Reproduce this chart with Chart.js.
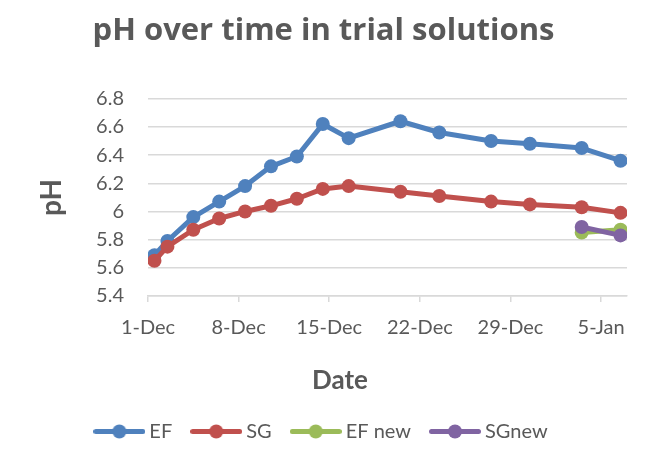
<!DOCTYPE html>
<html>
<head>
<meta charset="utf-8">
<script src="https://cdn.jsdelivr.net/npm/chart.js@4/dist/chart.umd.min.js"></script>
<style>
html,body{margin:0;padding:0;background:#ffffff;}
#wrap{width:647px;height:468px;position:relative;}
</style>
</head>
<body>
<div id="wrap"><canvas id="c" width="647" height="468"></canvas></div>
<script>
// ---- data ----
const startDate = '2014-12-01';
const endDate = '2015-01-07';
const efDates = ['2014-12-01','2014-12-02','2014-12-04','2014-12-06','2014-12-08','2014-12-10','2014-12-12','2014-12-14','2014-12-16','2014-12-20','2014-12-23','2014-12-27','2014-12-30','2015-01-03','2015-01-06'];
const efValues = [5.69, 5.79, 5.96, 6.07, 6.18, 6.32, 6.39, 6.62, 6.52, 6.64, 6.56, 6.50, 6.48, 6.45, 6.36];
const sgValues = [5.65, 5.75, 5.87, 5.95, 6.00, 6.04, 6.09, 6.16, 6.18, 6.14, 6.11, 6.07, 6.05, 6.03, 5.99];
const newDates = ['2015-01-03','2015-01-06'];
const efNewValues = [5.85, 5.87];
const sgNewValues = [5.89, 5.83];
const xTickDates = ['2014-12-01','2014-12-08','2014-12-15','2014-12-22','2014-12-29','2015-01-05'];
const xTickLabels = ['1-Dec','8-Dec','15-Dec','22-Dec','29-Dec','5-Jan'];
const yTickValues = [5.4, 5.6, 5.8, 6.0, 6.2, 6.4, 6.6, 6.8];
const seriesNames = ['EF', 'SG', 'EF new', 'SGnew'];
const seriesColors = ['#4F81BD', '#C0504D', '#9BBB59', '#8064A2'];

// ---- helpers ----
const DAY = 86400000;
const dayOf = d => (Date.parse(d + 'T00:00:00Z') - Date.parse(startDate + 'T00:00:00Z')) / DAY;
// Excel date axis places each point in the middle of its day
const toPoints = (dates, vals) => dates.map((d, i) => ({x: dayOf(d) + 0.5, y: vals[i]}));
const xTickPos = xTickDates.map(dayOf);

const TEXT = '#595959';
const FONT = "Lato, 'Open Sans', sans-serif";
const TITLE_FONT = "'Open Sans', Lato, sans-serif";
Chart.defaults.font.family = FONT;
Chart.defaults.color = TEXT;

function legendImage(color) {
  const cv = document.createElement('canvas');
  cv.width = 52; cv.height = 15;
  const g = cv.getContext('2d');
  g.strokeStyle = color; g.lineWidth = 5; g.lineCap = 'round';
  g.beginPath(); g.moveTo(2.5, 7.5); g.lineTo(49.5, 7.5); g.stroke();
  g.fillStyle = color;
  g.beginPath(); g.arc(26, 7.5, 7, 0, Math.PI * 2); g.fill();
  return cv;
}
const legendImgs = seriesColors.map(legendImage);

function ds(i, data, order) {
  return {
    label: seriesNames[i],
    data: data,
    borderColor: seriesColors[i],
    backgroundColor: seriesColors[i],
    borderWidth: 5,
    pointRadius: 7,
    pointHoverRadius: 7,
    pointBorderWidth: 0,
    pointBackgroundColor: seriesColors[i],
    borderJoinStyle: 'round',
    borderCapStyle: 'round',
    tension: 0,
    fill: false,
    order: order
  };
}

const dateTitle = {
  id: 'dateTitle',
  afterDraw(chart) {
    const ctx = chart.ctx;
    ctx.save();
    ctx.font = 'bold 26px ' + FONT;
    ctx.fillStyle = TEXT;
    ctx.textAlign = 'center';
    ctx.textBaseline = 'middle';
    ctx.fillText('Date', 340, 381);
    ctx.restore();
  }
};

new Chart(document.getElementById('c'), {
  type: 'line',
  data: {
    datasets: [
      ds(0, toPoints(efDates, efValues), 4),
      ds(1, toPoints(efDates, sgValues), 3),
      ds(2, toPoints(newDates, efNewValues), 2),
      ds(3, toPoints(newDates, sgNewValues), 1)
    ]
  },
  options: {
    responsive: false,
    animation: false,
    devicePixelRatio: 1,
    layout: {padding: {left: 0, right: 0, top: 0, bottom: 16.5}},
    plugins: {
      tooltip: {enabled: false},
      title: {
        display: true,
        text: 'pH over time in trial solutions',
        color: TEXT,
        font: {size: 31, weight: 'bold', family: TITLE_FONT},
        padding: {top: 13, bottom: 48.5}
      },
      legend: {
        position: 'bottom',
        labels: {
          usePointStyle: true,
          pointStyleWidth: 40,
          padding: 24,
          color: TEXT,
          font: {size: 20, family: FONT},
          generateLabels(chart) {
            const items = Chart.defaults.plugins.legend.labels.generateLabels(chart);
            items.forEach(it => { it.pointStyle = legendImgs[it.datasetIndex]; });
            return items;
          },
          sort: (a, b) => a.datasetIndex - b.datasetIndex
        }
      }
    },
    scales: {
      x: {
        type: 'linear',
        min: 0,
        max: dayOf(endDate),
        afterBuildTicks(scale) { scale.ticks = xTickPos.map(v => ({value: v})); },
        afterFit(scale) { scale.height = 101.5; },
        ticks: {
          autoSkip: false,
          maxRotation: 0,
          padding: 14,
          color: TEXT,
          font: {size: 20, family: FONT},
          callback(value) {
            const i = xTickPos.indexOf(value);
            return i >= 0 ? xTickLabels[i] : '';
          }
        },
        grid: {display: true, drawOnChartArea: false, drawTicks: true, tickLength: 6, color: '#D9D9D9', lineWidth: 1.5},
        border: {display: true, color: '#D9D9D9', width: 1.5}
      },
      y: {
        type: 'linear',
        position: 'left',
        min: 5.4,
        max: 6.8,
        afterBuildTicks(scale) { scale.ticks = yTickValues.map(v => ({value: v})); },
        afterFit(scale) { scale.width = 148; },
        ticks: {
          padding: 24,
          color: TEXT,
          font: {size: 20, family: FONT},
          callback(value) { return String(Number(value.toFixed(1))); }
        },
        grid: {color: '#D9D9D9', lineWidth: 1.5, drawTicks: false},
        border: {display: false},
        title: {
          display: true,
          text: 'pH',
          color: TEXT,
          font: {size: 28, weight: 'bold', family: FONT},
          padding: {top: 35, bottom: 0}
        }
      },
      spacer: {
        type: 'linear',
        position: 'right',
        display: true,
        afterFit(scale) { scale.width = 20; },
        ticks: {display: false},
        grid: {display: false},
        border: {display: false}
      }
    }
  },
  plugins: [dateTitle]
});
</script>
</body>
</html>
